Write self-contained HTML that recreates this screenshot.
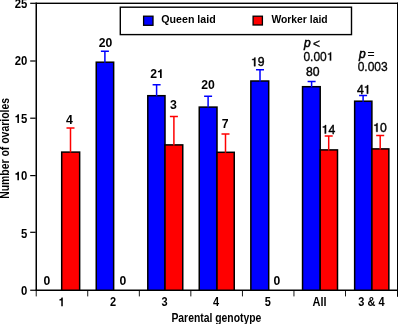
<!DOCTYPE html>
<html><head><meta charset="utf-8"><style>
html,body{margin:0;padding:0;background:#fff;width:398px;height:324px;overflow:hidden}
svg{display:block;will-change:transform}
text{font-family:"Liberation Sans",sans-serif;fill:#000}
</style></head><body>
<svg width="398" height="324" viewBox="0 0 398 324">
<rect x="61.70" y="152.10" width="17.95" height="140.15" fill="#ff0000" stroke="#000" stroke-width="1.5"/>
<rect x="96.25" y="62.20" width="17.40" height="230.05" fill="#0000ff" stroke="#000" stroke-width="1.5"/>
<rect x="147.80" y="95.70" width="17.20" height="196.55" fill="#0000ff" stroke="#000" stroke-width="1.5"/>
<rect x="165.00" y="144.90" width="17.75" height="147.35" fill="#ff0000" stroke="#000" stroke-width="1.5"/>
<rect x="199.25" y="107.10" width="17.75" height="185.15" fill="#0000ff" stroke="#000" stroke-width="1.5"/>
<rect x="217.00" y="152.30" width="17.25" height="139.95" fill="#ff0000" stroke="#000" stroke-width="1.5"/>
<rect x="250.85" y="81.00" width="17.85" height="211.25" fill="#0000ff" stroke="#000" stroke-width="1.5"/>
<rect x="302.55" y="86.70" width="17.65" height="205.55" fill="#0000ff" stroke="#000" stroke-width="1.5"/>
<rect x="320.20" y="149.90" width="17.30" height="142.35" fill="#ff0000" stroke="#000" stroke-width="1.5"/>
<rect x="354.65" y="101.20" width="17.25" height="191.05" fill="#0000ff" stroke="#000" stroke-width="1.5"/>
<rect x="371.90" y="148.90" width="16.95" height="143.35" fill="#ff0000" stroke="#000" stroke-width="1.5"/>
<rect x="0" y="291" width="398" height="33" fill="#fff"/>
<path d="M70.50 152.60V127.90M66.50 127.90H74.50" stroke="#ff0000" stroke-width="1.5" fill="none"/>
<path d="M104.90 62.70V51.20M100.90 51.20H108.90" stroke="#0000ff" stroke-width="1.5" fill="none"/>
<path d="M156.60 96.20V84.70M152.60 84.70H160.60" stroke="#0000ff" stroke-width="1.5" fill="none"/>
<path d="M173.90 145.40V116.40M169.90 116.40H177.90" stroke="#ff0000" stroke-width="1.5" fill="none"/>
<path d="M208.10 107.60V96.30M204.10 96.30H212.10" stroke="#0000ff" stroke-width="1.5" fill="none"/>
<path d="M225.50 152.80V134.00M221.50 134.00H229.50" stroke="#ff0000" stroke-width="1.5" fill="none"/>
<path d="M260.00 81.50V69.80M256.00 69.80H264.00" stroke="#0000ff" stroke-width="1.5" fill="none"/>
<path d="M311.60 87.20V81.40M307.60 81.40H315.60" stroke="#0000ff" stroke-width="1.5" fill="none"/>
<path d="M328.70 150.40V135.90M324.70 135.90H332.70" stroke="#ff0000" stroke-width="1.5" fill="none"/>
<path d="M363.10 101.70V95.40M359.10 95.40H367.10" stroke="#0000ff" stroke-width="1.5" fill="none"/>
<path d="M380.20 149.40V135.40M376.20 135.40H384.20" stroke="#ff0000" stroke-width="1.5" fill="none"/>
<rect x="35.5" y="2.6" width="1.5" height="288.4" fill="#000"/>
<rect x="35.5" y="2.6" width="362.5" height="1.4" fill="#000"/>
<rect x="397" y="2.6" width="1" height="294.2" fill="#000"/>
<rect x="35.5" y="289.5" width="362.5" height="1.5" fill="#000"/>
<rect x="30.2" y="2.70" width="5.5" height="1.2" fill="#000"/>
<rect x="30.2" y="60.40" width="5.5" height="1.2" fill="#000"/>
<rect x="30.2" y="117.60" width="5.5" height="1.2" fill="#000"/>
<rect x="30.2" y="175.00" width="5.5" height="1.2" fill="#000"/>
<rect x="30.2" y="231.70" width="5.5" height="1.2" fill="#000"/>
<rect x="30.2" y="289.65" width="5.5" height="1.2" fill="#000"/>
<rect x="35.75" y="290" width="0.9" height="6.4" fill="#000"/>
<rect x="87.30" y="290" width="0.9" height="6.4" fill="#000"/>
<rect x="138.85" y="290" width="0.9" height="6.4" fill="#000"/>
<rect x="190.40" y="290" width="0.9" height="6.4" fill="#000"/>
<rect x="241.95" y="290" width="0.9" height="6.4" fill="#000"/>
<rect x="293.50" y="290" width="0.9" height="6.4" fill="#000"/>
<rect x="345.05" y="290" width="0.9" height="6.4" fill="#000"/>
<rect x="120.3" y="7.2" width="231.2" height="27.4" fill="#fff" stroke="#000" stroke-width="1.4"/>
<rect x="143.6" y="16.2" width="9.4" height="9.1" fill="#0000ff" stroke="#000" stroke-width="1.3"/>
<rect x="253.1" y="16.2" width="9.3" height="8.8" fill="#ff0000" stroke="#000" stroke-width="1.3"/>
<text x="161.3" y="23.1" font-size="11.8" font-weight="bold" textLength="54.4" lengthAdjust="spacingAndGlyphs">Queen laid</text>
<text x="271.4" y="23.1" font-size="11.8" font-weight="bold" textLength="56.2" lengthAdjust="spacingAndGlyphs">Worker laid</text>
<text x="171.4" y="322.2" font-size="12.3" font-weight="bold" textLength="90.0" lengthAdjust="spacingAndGlyphs">Parental genotype</text>
<text transform="translate(8.8,198.8) rotate(-90)" font-size="12.3" font-weight="bold" textLength="100.8" lengthAdjust="spacingAndGlyphs">Number of ovarioles</text>
<g transform="translate(27.30,7.60) scale(0.93,1)"><text x="-13.57 -6.79" y="0" font-size="12.2" font-weight="bold">25</text></g>
<g transform="translate(27.30,65.30) scale(0.93,1)"><text x="-13.57 -6.79" y="0" font-size="12.2" font-weight="bold">20</text></g>
<g transform="translate(27.30,122.90) scale(0.93,1)"><text x="-6.79" y="0" font-size="12.2" font-weight="bold">5</text><path transform="translate(-13.57,0) scale(0.01220,-0.01220)" d="M378 0L378 710L262 710C248 652 218 612 172 594C136 580 98 574 69 572L69 462L238 462L238 0Z"/></g>
<g transform="translate(27.30,180.30) scale(0.93,1)"><text x="-6.79" y="0" font-size="12.2" font-weight="bold">0</text><path transform="translate(-13.57,0) scale(0.01220,-0.01220)" d="M378 0L378 710L262 710C248 652 218 612 172 594C136 580 98 574 69 572L69 462L238 462L238 0Z"/></g>
<g transform="translate(27.30,237.70) scale(0.93,1)"><text x="-6.79" y="0" font-size="12.2" font-weight="bold">5</text></g>
<g transform="translate(27.30,294.60) scale(0.93,1)"><text x="-6.79" y="0" font-size="12.2" font-weight="bold">0</text></g>
<g transform="translate(61.70,306.20) scale(0.9,1)"><path transform="translate(-3.39,0) scale(0.01220,-0.01220)" d="M378 0L378 710L262 710C248 652 218 612 172 594C136 580 98 574 69 572L69 462L238 462L238 0Z"/></g>
<g transform="translate(113.00,306.20) scale(0.9,1)"><text x="-3.39" y="0" font-size="12.2" font-weight="bold">2</text></g>
<g transform="translate(164.60,306.20) scale(0.9,1)"><text x="-3.39" y="0" font-size="12.2" font-weight="bold">3</text></g>
<g transform="translate(216.00,306.20) scale(0.9,1)"><text x="-3.39" y="0" font-size="12.2" font-weight="bold">4</text></g>
<g transform="translate(267.90,306.20) scale(0.9,1)"><text x="-3.39" y="0" font-size="12.2" font-weight="bold">5</text></g>
<g transform="translate(319.60,306.20) scale(0.9,1)"><text x="-7.79 1.02 4.41" y="0" font-size="12.2" font-weight="bold">All</text></g>
<g transform="translate(371.40,306.20) scale(0.9,1)"><text x="-14.58 -4.41 7.79" y="0" font-size="12.2" font-weight="bold">3&amp;4</text></g>
<g transform="translate(43.50,285.40)"><text x="0.00" y="0" font-size="12.2" font-weight="bold">0</text></g>
<g transform="translate(66.00,123.90) scale(0.95,1)"><text x="0.00" y="0" font-size="12.9" font-weight="bold">4</text></g>
<g transform="translate(98.75,47.00)"><text x="0.00 6.79" y="0" font-size="12.2" font-weight="bold">20</text></g>
<g transform="translate(119.56,285.10)"><text x="0.00" y="0" font-size="12.2" font-weight="bold">0</text></g>
<g transform="translate(150.30,78.00)"><text x="0.00" y="0" font-size="12.2" font-weight="bold">2</text><path transform="translate(6.79,0) scale(0.01220,-0.01220)" d="M378 0L378 710L262 710C248 652 218 612 172 594C136 580 98 574 69 572L69 462L238 462L238 0Z"/></g>
<g transform="translate(170.00,109.30) scale(0.95,1)"><text x="0.00" y="0" font-size="13.0" font-weight="bold">3</text></g>
<g transform="translate(201.30,88.60)"><text x="0.00 6.79" y="0" font-size="12.2" font-weight="bold">20</text></g>
<g transform="translate(221.80,128.20)"><text x="0.00" y="0" font-size="12.2" font-weight="bold">7</text></g>
<g transform="translate(250.90,66.20)"><text x="6.79" y="0" font-size="12.2" font-weight="normal" stroke="#000" stroke-width="0.4">9</text><path transform="translate(0.00,0) scale(0.01220,-0.01220)" d="M365 0L365 703L300 703C288 650 264 615 224 598C188 583 142 578 101 576L101 505L258 505L258 0Z" stroke="#000" stroke-width="32.8"/></g>
<g transform="translate(273.60,285.20)"><text x="0.00" y="0" font-size="12.2" font-weight="bold">0</text></g>
<g transform="translate(306.00,76.00)"><text x="0.00 6.79" y="0" font-size="12.2" font-weight="normal" stroke="#000" stroke-width="0.4">80</text></g>
<g transform="translate(321.60,133.60)"><text x="6.79" y="0" font-size="12.2" font-weight="normal" stroke="#000" stroke-width="0.4">4</text><path transform="translate(0.00,0) scale(0.01220,-0.01220)" d="M365 0L365 703L300 703C288 650 264 615 224 598C188 583 142 578 101 576L101 505L258 505L258 0Z" stroke="#000" stroke-width="32.8"/></g>
<g transform="translate(356.90,93.70)"><text x="0.00" y="0" font-size="12.2" font-weight="normal" stroke="#000" stroke-width="0.4">4</text><path transform="translate(6.79,0) scale(0.01220,-0.01220)" d="M365 0L365 703L300 703C288 650 264 615 224 598C188 583 142 578 101 576L101 505L258 505L258 0Z" stroke="#000" stroke-width="32.8"/></g>
<g transform="translate(373.10,131.80)"><text x="6.79" y="0" font-size="12.2" font-weight="normal" stroke="#000" stroke-width="0.4">0</text><path transform="translate(0.00,0) scale(0.01220,-0.01220)" d="M365 0L365 703L300 703C288 650 264 615 224 598C188 583 142 578 101 576L101 505L258 505L258 0Z" stroke="#000" stroke-width="32.8"/></g>
<text x="304.0" y="47.0" font-size="12" font-style="italic" stroke="#000" stroke-width="0.55">p</text>
<g transform="translate(313.00,47.90)"><text x="0.00" y="0" font-size="12" font-weight="normal" stroke="#000" stroke-width="0.3">&lt;</text></g>
<g transform="translate(303.40,60.60)"><text x="0.00 6.67 10.01 16.68" y="0" font-size="12" font-weight="normal" stroke="#000" stroke-width="0.3">0.00</text><path transform="translate(23.36,0) scale(0.01200,-0.01200)" d="M365 0L365 703L300 703C288 650 264 615 224 598C188 583 142 578 101 576L101 505L258 505L258 0Z" stroke="#000" stroke-width="25.0"/></g>
<text x="358.9" y="57.6" font-size="12" font-style="italic" stroke="#000" stroke-width="0.55">p</text>
<g transform="translate(367.60,58.20)"><text x="0.00" y="0" font-size="12" font-weight="normal" stroke="#000" stroke-width="0.3">=</text></g>
<g transform="translate(357.70,71.30)"><text x="0.00 6.67 10.01 16.68 23.36" y="0" font-size="12" font-weight="normal" stroke="#000" stroke-width="0.3">0.003</text></g>
</svg>
</body></html>
